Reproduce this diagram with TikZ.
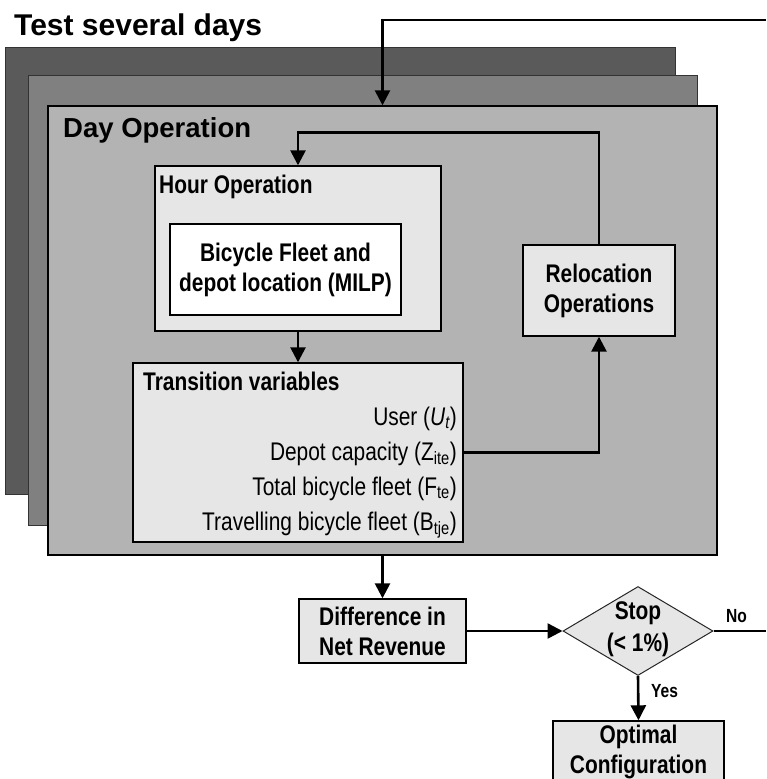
\documentclass[tikz,border=0pt]{standalone}
\usepackage{fontspec}
\setmainfont{Liberation Sans}[FakeStretch=0.82]
\newfontfamily\widefont{Liberation Sans}
\usetikzlibrary{arrows.meta,shapes.geometric}
\definecolor{stackA}{HTML}{5A5A5A}
\definecolor{stackB}{HTML}{808080}
\definecolor{stackC}{HTML}{B3B3B3}
\definecolor{boxgray}{HTML}{E6E6E6}
\tikzset{
  stack/.style={draw=black!80, line width=1pt, inner sep=0pt},
  box/.style={draw=black, line width=1.4pt, fill=boxgray, inner sep=0pt,
    font=\fontsize{25.5}{30}\selectfont\bfseries, align=center},
  lbl/.style={inner sep=0pt, font=\fontsize{25.5}{30}\selectfont\bfseries},
  item/.style={inner sep=0pt, anchor=base east, font=\fontsize{25.5}{30}\selectfont},
  small/.style={inner sep=0pt, anchor=base west, font=\fontsize{19}{20}\selectfont\bfseries},
  arr/.style={line width=2.6pt, -{Triangle[length=15pt,width=15pt]}},
  con/.style={line width=2.6pt}
}
\begin{document}
\begin{tikzpicture}[x=1pt,y=-1pt]
\path[use as bounding box] (0,0) rectangle (766,779);
\clip (0,0) rectangle (766,779);
% stacked day layers
\node[stack, fill=stackA, minimum width=670, minimum height=447] (layerA) at (340,270.5) {};
\node[stack, fill=stackB, minimum width=669, minimum height=450] (layerB) at (362.5,300) {};
\node[stack, draw=black, line width=1.4pt, fill=stackC, minimum width=669, minimum height=449] (day) at (382.5,330.5) {};
% titles
\node[inner sep=0pt, anchor=base west, font=\widefont\fontsize{30}{34}\selectfont\bfseries] (title) at (14,35) {Test several days};
\node[inner sep=0pt, anchor=base west, font=\widefont\fontsize{27.5}{32}\selectfont\bfseries] (daylbl) at (63,137) {Day Operation};
% hour operation
\node[box, minimum width=286, minimum height=165] (hour) at (298,248.5) {};
\node[lbl, anchor=base west] (hourlbl) at (159,193) {Hour Operation};
\node[box, fill=white, minimum width=231, minimum height=91] (milp) at (285.5,269.5) {Bicycle Fleet and\\depot location (MILP)};
% transition variables
\node[box, minimum width=330, minimum height=179] (trans) at (298,452.5) {};
\node[lbl, anchor=base west] (translbl) at (143,390) {Transition variables};
\node[item] (u) at (457,425) {User (\textit{U\textsubscript{t}})};
\node[item] (z) at (457,460) {Depot capacity (Z\textsubscript{ite})};
\node[item] (f) at (457,495) {Total bicycle fleet (F\textsubscript{te})};
\node[item] (b) at (457,530) {Travelling bicycle fleet (B\textsubscript{tje})};
% relocation
\node[box, minimum width=152, minimum height=91] (reloc) at (599,290.5) {Relocation\\Operations};
% lower part
\node[box, minimum width=167, minimum height=64] (diff) at (382.5,631) {Difference in\\Net Revenue};
\node[diamond, draw=black!85, line width=1pt, fill=boxgray, inner sep=0pt, minimum width=150, minimum height=89] (stop) at (638,631) {};
\node[lbl, align=center, font=\fontsize{25.5}{32}\selectfont\bfseries] (stoptxt) at (638,629) {Stop\\(< 1\%)};
\node[box, minimum width=171, minimum height=62] (opt) at (638.5,752) {Optimal\\Configuration};
\node[small] (no) at (726,622) {No};
\node[small] (yes) at (651,697) {Yes};
\coordinate (topR) at (766,20);
\coordinate (noR) at (766,631);
% connectors
\draw[arr] (topR) -| (day.north);
\draw[arr] (reloc.north) -- ++(0,-112) -| (hour.north);
\draw[arr] (hour.south) -- (trans.north);
\draw[arr] (trans.east) -| (reloc.south);
\draw[arr] (day.south) -- (diff.north);
\draw[arr] (diff.east) -- (stop.west);
\draw[con] (stop.east) -- (noR);
\draw[arr] (stop.south) -- (opt.north);
\end{tikzpicture}
\end{document}
